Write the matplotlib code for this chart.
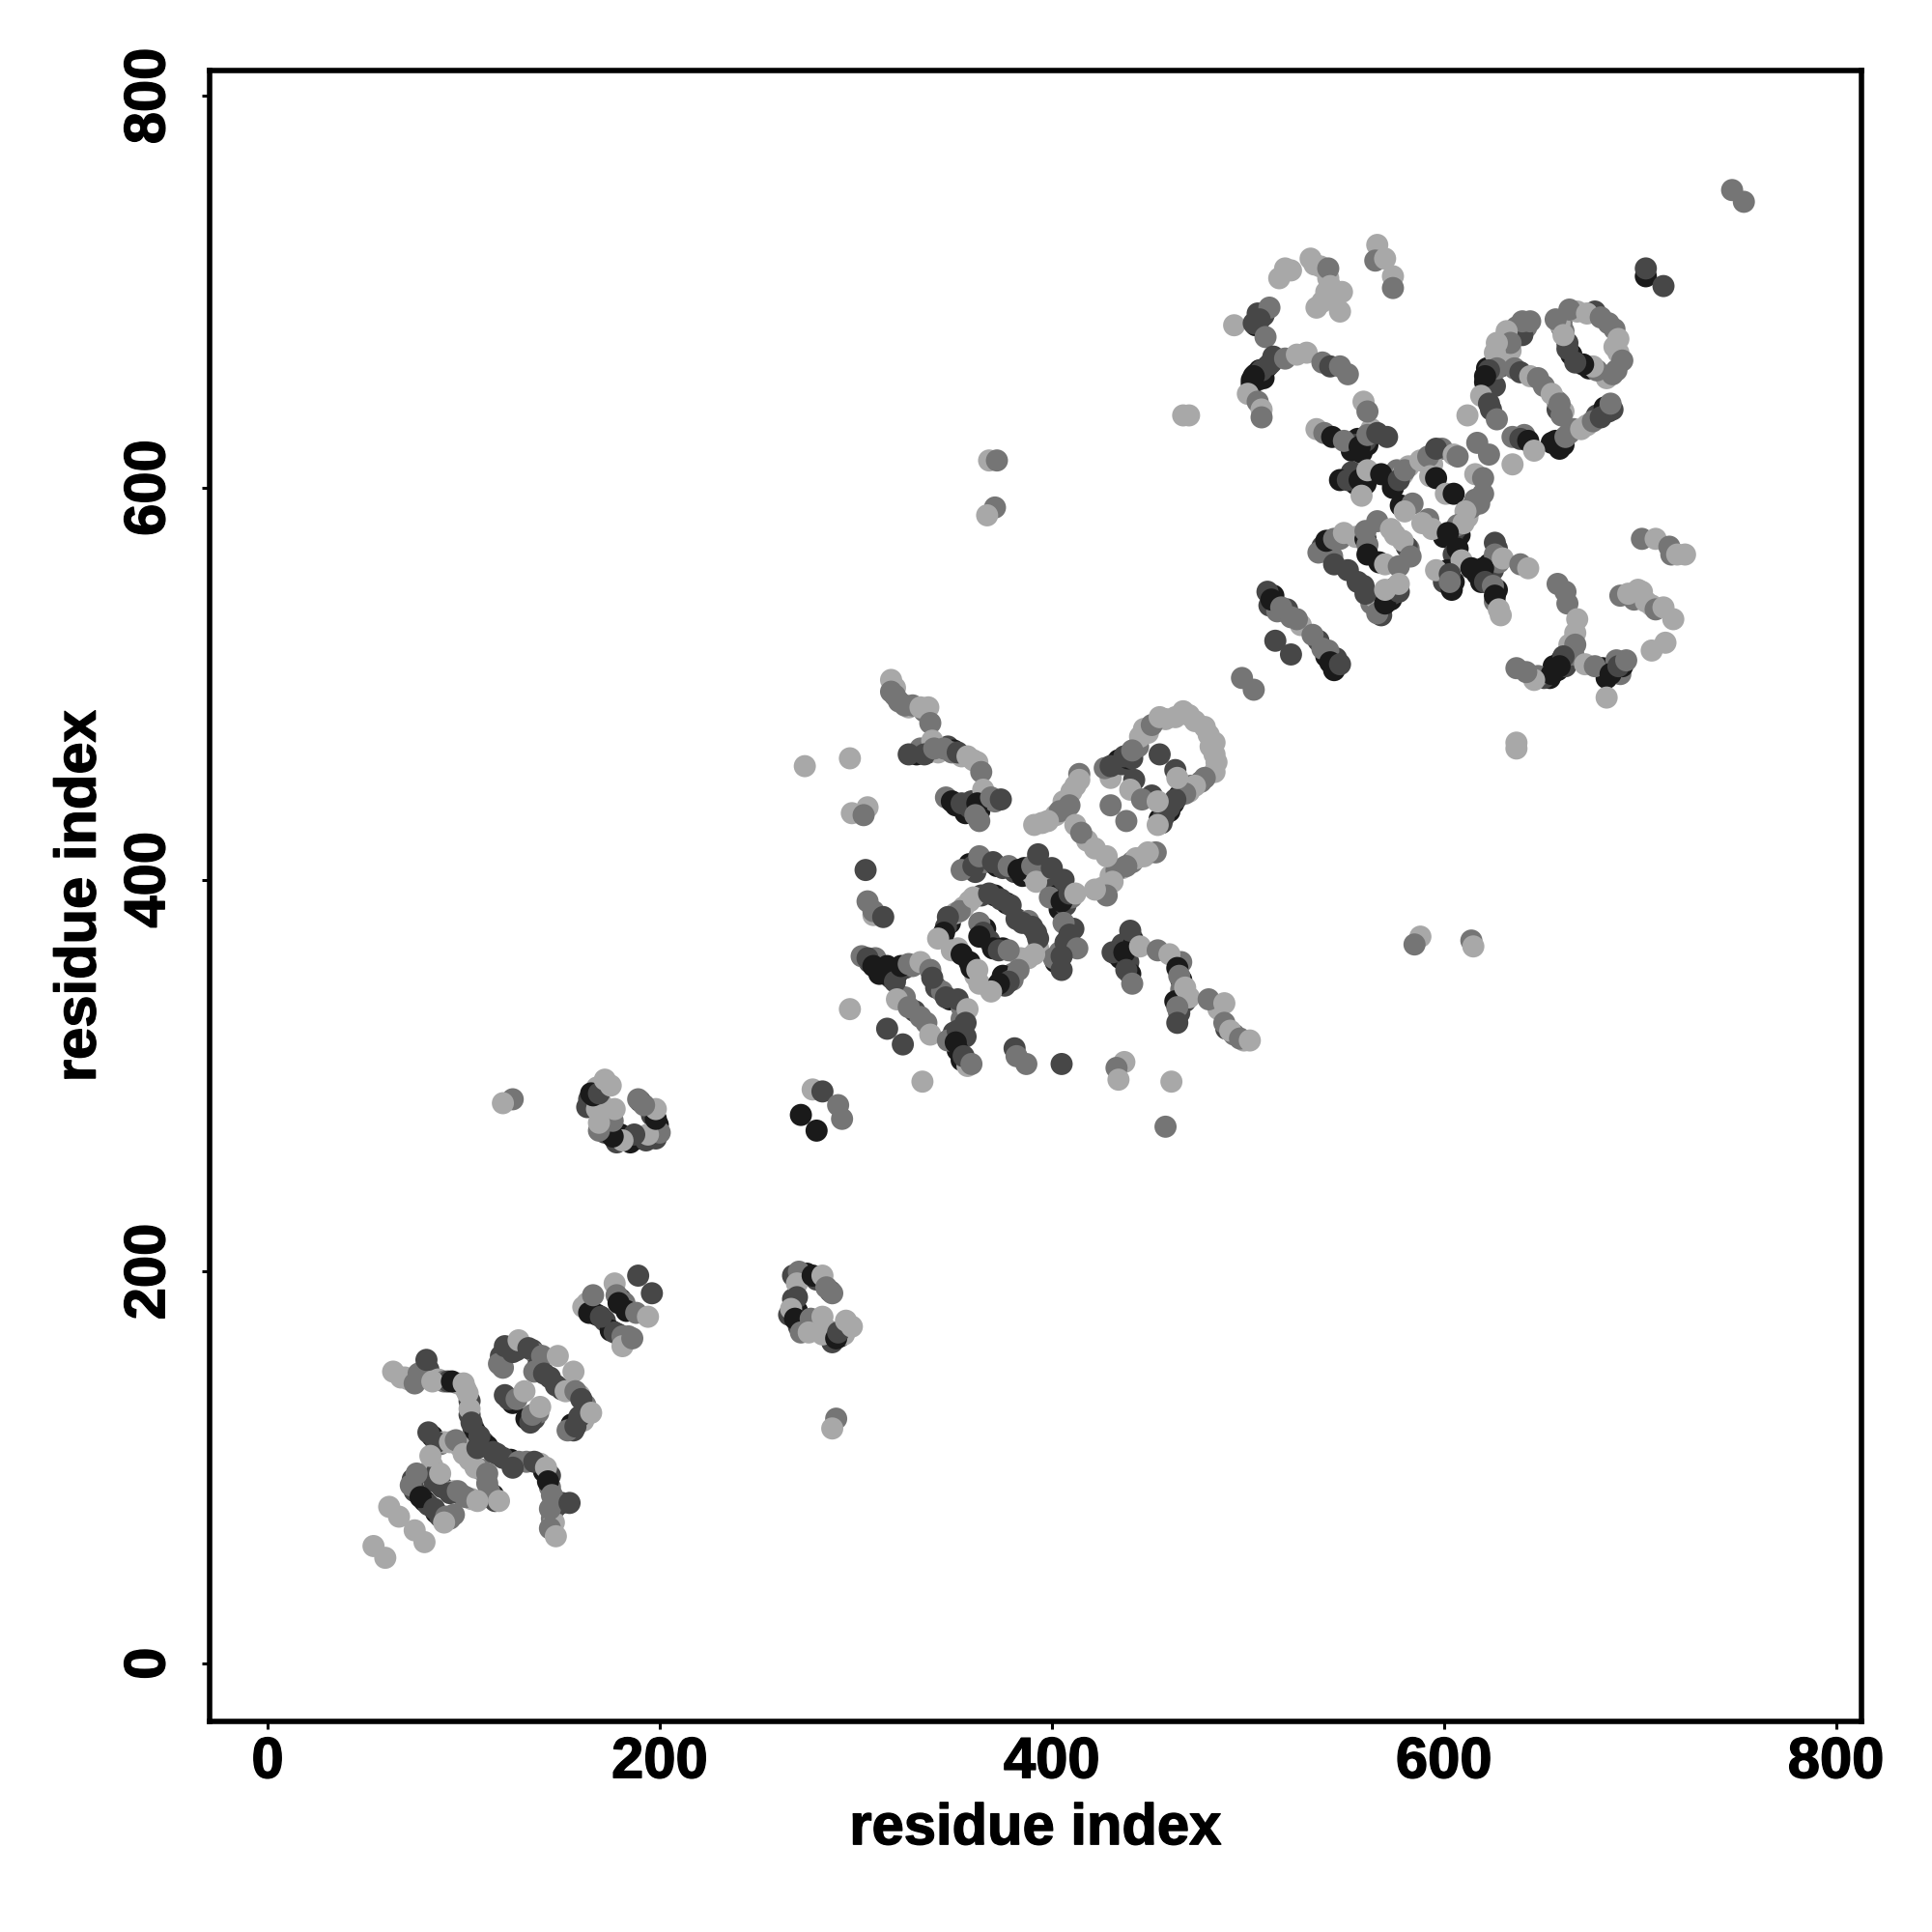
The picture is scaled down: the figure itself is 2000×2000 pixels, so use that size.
import matplotlib
matplotlib.use("Agg")
import matplotlib.pyplot as plt
import matplotlib.patheffects as pe

# contacts as (residue i, residue j, tone)
# tone: l = light, m = mid, d = dark, b = black

low_tail = [(54,60,"l"),(60,54,"l"),(62,80,"l"),(67,75,"l"),(75,68,"l"),(80,62,"l")]

domain_a = [
    (64,149,"l"),(68,146,"l"),(75,143,"m"),(77,148,"m"),(81,155,"d"),(84,144,"l"),(94,144,"b"),
    (100,143,"l"),(102,138,"l"),(103,130,"l"),(104,123,"d"),(108,116,"d"),(115,108,"d"),(120,105,"d"),
    (128,103,"m"),(136,103,"d"),(142,100,"l"),(143,93,"b"),(145,86,"m"),(144,79,"m"),(154,82,"d"),
    (144,69,"m"),(147,65,"l"),
    (82,118,"d"),(86,113,"d"),(93,113,"l"),(96,114,"m"),(100,107,"l"),(106,100,"l"),(112,97,"m"),
    (113,88,"m"),(118,83,"l"),
    (83,106,"l"),(85,93,"d"),(88,97,"l"),(93,87,"d"),(97,88,"m"),(101,85,"m"),(107,83,"l"),
    (76,97,"m"),(73,91,"m"),(78,85,"b"),(85,79,"d"),(91,75,"m"),(95,76,"m"),(90,72,"l"),
    (107,110,"d"),(125,100,"d"),
]

domain_a_dense = [
    (70,146,"l"),(72,145,"l"),(79,146,"m"),(80,150,"m"),(82,150,"d"),(87,145,"l"),(90,144,"m"),(92,144,"d"),
    (97,143,"l"),(101,140,"l"),(103,134,"d"),(103,127,"d"),(105,120,"d"),(106,118,"b"),(110,113,"d"),
    (112,111,"b"),(117,107,"d"),(124,104,"b"),(132,103,"m"),(139,102,"l"),(141,98,"b"),(144,96,"d"),
    (144,90,"m"),(146,83,"l"),(147,80,"d"),(145,74,"m"),(146,72,"l"),(150,82,"d"),
    (84,116,"b"),(88,112,"m"),(90,113,"l"),(98,111,"l"),(103,104,"l"),(109,99,"m"),(112,92,"m"),
    (115,86,"b"),(113,85,"d"),(116,83,"d"),(84,101,"l"),(86,97,"d"),(89,90,"d"),(95,88,"l"),(99,86,"m"),
    (104,84,"l"),(74,94,"d"),(75,88,"d"),(80,83,"b"),(82,81,"d"),(86,77,"b"),(88,75,"d"),(93,74,"m"),
]

domain_a_upper = [
    (118,153,"m"),(121,162,"d"),(125,159,"d"),(128,165,"l"),(133,161,"d"),(140,157,"m"),(148,157,"l"),
    (136,149,"m"),(141,148,"d"),(156,149,"l"),(147,142,"d"),(152,139,"l"),(157,139,"m"),(160,135,"d"),
    (153,119,"m"),(157,121,"d"),(159,126,"d"),(165,128,"l"),
    (123,135,"d"),(127,135,"m"),(131,139,"l"),(134,123,"d"),(135,127,"m"),(139,131,"l"),
]

domain_a_upper_dense = [
    (119,157,"d"),(120,151,"m"),(123,161,"b"),(127,160,"d"),(130,162,"m"),(135,160,"d"),(137,158,"m"),
    (138,152,"d"),(144,146,"d"),(150,140,"d"),(155,140,"m"),(159,137,"l"),(162,132,"m"),(162,129,"d"),
    (161,124,"l"),(155,122,"b"),(156,119,"d"),(125,133,"b"),(121,137,"d"),(132,125,"b"),(136,125,"d"),
    (138,128,"m"),
]

domain_c = [
    (161,182,"l"),(164,179,"b"),(166,188,"m"),(170,177,"d"),(177,169,"d"),(181,167,"m"),(181,162,"l"),
    (186,166,"m"),(177,194,"l"),(178,188,"m"),(179,184,"b"),(183,180,"b"),(189,198,"d"),(196,189,"d"),
    (188,179,"m"),(194,177,"l"),
]

domain_c_dense = [
    (163,184,"l"),(165,180,"d"),(168,178,"b"),(172,175,"d"),(175,170,"b"),(179,168,"d"),(183,165,"l"),
    (184,167,"m"),(180,186,"d"),(182,184,"m"),
]

domain_d = [
    (271,200,"m"),(270,194,"l"),(278,198,"b"),(283,198,"l"),(285,192,"m"),(288,189,"m"),(270,187,"d"),
    (267,181,"l"),(269,176,"b"),(272,169,"m"),(277,176,"m"),(283,177,"l"),(276,169,"l"),(283,168,"l"),
    (290,166,"b"),(291,169,"d"),(295,175,"l"),(298,172,"l"),(290,125,"m"),(288,120,"l"),
]

domain_d_dense = [
    (268,198,"d"),(272,197,"m"),(275,199,"b"),(280,196,"d"),(287,190,"d"),(268,186,"d"),(266,178,"d"),
    (270,180,"b"),(271,172,"d"),(274,172,"l"),(280,172,"m"),(286,170,"l"),(288,164,"d"),(292,167,"b"),
    (294,168,"l"),(296,173,"l"),
]

domain_d_mirror = [
    (200,271,"m"),(194,270,"l"),(198,278,"b"),(198,283,"l"),(192,285,"m"),(189,288,"m"),(187,270,"d"),
    (181,267,"l"),(176,269,"b"),(169,272,"m"),(176,277,"m"),(177,283,"l"),(169,276,"l"),(168,283,"l"),
    (166,290,"b"),(169,291,"d"),(175,295,"l"),(172,298,"l"),(125,288,"m"),(120,286,"l"),
]

domain_d_mirror_dense = [
    (198,268,"d"),(197,272,"m"),(199,275,"b"),(196,280,"d"),(190,287,"d"),(186,268,"d"),(178,266,"d"),
    (180,270,"b"),(172,271,"d"),(172,274,"l"),(172,280,"m"),(170,286,"l"),(164,288,"d"),(167,292,"b"),
    (168,294,"l"),(173,296,"l"),(185,266,"b"),(190,268,"b"),(193,267,"d"),(163,284,"d"),(165,291,"b"),
]

small_strand = [
    (272,280,"b"),(280,272,"b"),(278,293,"l"),(283,292,"d"),(291,285,"m"),(293,278,"m"),
    (274,458,"l"),(458,274,"m"),(371,590,"m"),(367,586,"l"),(368,614,"l"),(372,614,"m"),
    (588,371,"l"),(585,367,"m"),(614,369,"m"),(615,366,"l"),(470,637,"l"),(467,637,"l"),
    (637,470,"l"),(637,467,"l"),
]

domain_e_upper_left = [
    (318,502,"l"),(318,496,"m"),(322,491,"m"),(325,489,"m"),(333,488,"l"),(337,488,"l"),(338,480,"m"),
    (339,471,"l"),(327,464,"d"),(335,464,"d"),(340,467,"m"),(345,467,"m"),(349,465,"m"),(352,465,"d"),
    (357,463,"l"),(362,460,"l"),(364,455,"m"),(365,446,"l"),(346,442,"m"),(349,440,"b"),(354,439,"d"),
    (358,437,"d"),(362,439,"b"),(361,433,"m"),(363,430,"m"),(369,442,"m"),(374,441,"d"),
    (297,462,"l"),(298,434,"l"),(306,437,"l"),(304,433,"m"),(305,405,"d"),(306,389,"m"),(309,382,"l"),
    (309,384,"m"),(314,381,"d"),(497,503,"m"),(503,497,"m"),
]

domain_e_upper_left_dense = [
    (320,498,"l"),(320,494,"m"),(327,488,"l"),(329,489,"m"),(335,486,"m"),(331,464,"b"),(333,467,"m"),
    (337,465,"d"),(342,465,"l"),(347,468,"d"),(350,466,"b"),(354,463,"l"),(360,461,"l"),(360,440,"b"),
    (361,436,"b"),(362,437,"d"),(363,435,"b"),(366,442,"l"),(371,440,"m"),(359,440,"d"),(351,438,"b"),
    (356,434,"b"),
]

domain_e_loop = [
    (427,457,"m"),(430,458,"d"),(437,463,"d"),(441,466,"m"),(447,477,"l"),(451,479,"m"),(455,483,"l"),
    (463,483,"l"),(470,484,"l"),(473,481,"l"),(480,474,"l"),(483,470,"l"),(483,464,"l"),(483,455,"l"),
    (478,452,"m"),(473,448,"l"),(468,444,"m"),(463,441,"d"),(460,437,"d"),(457,432,"d"),(454,428,"l"),
    (455,464,"d"),(463,456,"d"),(464,452,"l"),(442,451,"d"),(440,446,"l"),(451,443,"d"),(446,441,"m"),
    (454,440,"l"),(430,438,"m"),(438,430,"m"),
    (414,454,"m"),(414,451,"l"),(410,445,"l"),(409,438,"m"),(404,435,"m"),(398,430,"l"),(391,428,"l"),
    (412,428,"l"),(415,424,"m"),
    (453,414,"m"),(449,414,"l"),(443,411,"l"),(438,407,"m"),(433,405,"m"),(428,412,"l"),(422,416,"l"),
    (431,399,"l"),(428,392,"m"),(422,395,"l"),
]

domain_e_loop_dense = [
    (430,452,"l"),(432,459,"m"),(434,461,"b"),(436,459,"d"),(439,462,"b"),(441,462,"d"),(444,468,"m"),
    (445,473,"l"),(449,475,"l"),(458,482,"l"),(467,486,"l"),(478,478,"l"),(481,468,"l"),(484,460,"l"),
    (476,450,"m"),(471,448,"m"),(466,444,"d"),(465,443,"b"),(462,439,"b"),(460,435,"b"),(458,435,"d"),
    (456,429,"d"),(455,431,"b"),(470,445,"l"),
    (412,448,"l"),(406,440,"l"),(402,433,"l"),(395,429,"l"),(447,412,"l"),(441,409,"m"),(436,406,"l"),
    (426,396,"l"),(430,402,"l"),(418,420,"l"),
]

domain_e_centre = [
    (354,405,"m"),(360,407,"d"),(363,412,"m"),(370,409,"d"),(378,407,"m"),(383,405,"b"),(390,407,"m"),
    (393,413,"d"),(392,399,"l"),(400,406,"d"),(406,400,"d"),(399,391,"m"),(405,389,"b"),(409,393,"d"),
    (412,393,"l"),(406,378,"m"),(409,372,"d"),(413,365,"m"),(401,360,"m"),(405,361,"d"),(405,354,"d"),
    (353,384,"m"),(347,381,"d"),(345,373,"b"),(342,370,"l"),(349,364,"l"),(354,362,"b"),(359,355,"b"),
    (362,354,"l"),(363,347,"l"),(360,391,"l"),(368,393,"d"),(374,390,"d"),(379,387,"d"),(385,378,"d"),
    (390,376,"d"),(393,370,"d"),(391,362,"l"),(384,360,"l"),(383,354,"m"),(378,348,"d"),(373,347,"b"),
    (369,343,"l"),(363,378,"m"),(365,373,"d"),(363,371,"b"),(370,365,"b"),(373,364,"d"),(378,364,"m"),
]

domain_e_centre_dense = [
    (358,408,"b"),(361,404,"d"),(366,409,"m"),(372,407,"b"),(375,406,"d"),(381,404,"d"),(385,402,"b"),
    (386,406,"b"),(390,403,"l"),(395,402,"l"),(400,395,"d"),(403,392,"b"),(404,385,"b"),(407,387,"d"),
    (410,391,"m"),(402,358,"b"),(404,363,"m"),(407,368,"d"),(411,375,"d"),(348,378,"b"),(346,376,"d"),
    (351,383,"l"),(355,386,"l"),(358,389,"l"),(364,392,"d"),(371,392,"b"),(377,388,"b"),(382,380,"d"),
    (388,379,"m"),(392,373,"d"),(393,365,"l"),(388,360,"l"),(380,352,"m"),(376,346,"d"),(375,351,"b"),
    (380,349,"m"),(358,358,"b"),(352,365,"l"),(361,351,"l"),(366,375,"b"),(368,369,"d"),(375,365,"b"),
]

domain_e_lower = [
    (303,361,"m"),(306,360,"d"),(309,356,"b"),(315,352,"b"),(320,348,"d"),(323,356,"b"),(327,357,"m"),
    (333,358,"l"),(338,354,"m"),(339,350,"d"),(346,340,"d"),(352,339,"d"),(357,334,"l"),(321,339,"l"),
    (327,335,"m"),(336,327,"m"),(338,321,"l"),(347,318,"m"),(356,327,"d"),(352,323,"d"),(351,317,"b"),
    (355,310,"d"),(359,306,"m"),(297,334,"l"),(316,324,"d"),(324,316,"d"),(334,297,"l"),
    (381,314,"d"),(382,310,"m"),(387,306,"m"),(405,306,"d"),(437,307,"l"),(433,304,"m"),(434,298,"l"),
    (461,297,"l"),
    (440,374,"d"),(431,363,"d"),(437,363,"b"),(438,354,"d"),(441,347,"m"),(445,366,"l"),(454,364,"m"),
    (460,362,"l"),(464,355,"b"),(465,351,"m"),(468,345,"l"),(470,340,"l"),(464,335,"m"),(464,327,"d"),
    (480,339,"m"),(488,337,"l"),(488,327,"m"),(491,323,"l"),(496,319,"m"),(501,318,"l"),
]

domain_e_lower_dense = [
    (307,358,"d"),(310,360,"m"),(312,352,"b"),(316,356,"b"),(318,350,"d"),(321,352,"b"),(325,355,"d"),
    (329,356,"m"),(341,345,"d"),(344,343,"m"),(348,339,"b"),(354,335,"m"),(325,340,"m"),(330,333,"d"),
    (333,330,"m"),(350,320,"d"),(354,325,"b"),(356,320,"d"),(352,313,"b"),(354,308,"b"),(357,305,"l"),
    (350,322,"d"),(354,329,"m"),(433,362,"b"),(435,360,"b"),(436,367,"d"),(439,358,"d"),(440,352,"b"),
    (441,370,"d"),(442,368,"b"),(466,349,"b"),(466,344,"m"),(468,338,"d"),(465,332,"d"),(467,341,"m"),
    (463,338,"b"),(466,358,"m"),(493,321,"m"),(498,318,"l"),(485,334,"l"),(489,324,"d"),
]

domain_f_upper_left = [
    (519,712,"l"),(516,707,"l"),(532,717,"l"),(537,713,"l"),(541,712,"m"),(542,703,"l"),(548,700,"l"),
    (538,695,"l"),(547,690,"l"),(566,724,"l"),(565,716,"m"),(570,717,"l"),(574,708,"l"),(574,702,"m"),
    (493,683,"l"),(511,692,"m"),(506,686,"d"),(503,684,"d"),(509,677,"m"),(513,667,"d"),(511,663,"d"),
    (507,660,"d"),(503,657,"b"),(519,666,"m"),(525,668,"l"),(530,669,"l"),(538,664,"m"),(542,662,"d"),
    (547,662,"m"),(551,658,"m"),(500,648,"l"),(505,644,"m"),(507,640,"l"),(507,636,"m"),
]

domain_f_upper_left_dense = [
    (504,683,"b"),(505,689,"d"),(508,688,"d"),(502,655,"b"),(504,658,"b"),(506,660,"b"),(508,659,"d"),
    (510,662,"b"),(512,664,"d"),(505,655,"d"),(502,653,"b"),(508,656,"b"),(534,714,"l"),(541,707,"l"),
    (540,700,"l"),(544,697,"l"),(522,711,"l"),(535,692,"l"),
]

domain_f_centre = [
    (559,644,"l"),(561,639,"m"),(535,630,"l"),(539,628,"m"),(543,626,"b"),(549,624,"m"),(557,621,"b"),
    (561,627,"m"),(566,628,"d"),(571,626,"d"),(547,604,"b"),(551,604,"d"),(557,604,"b"),(561,609,"l"),
    (568,607,"b"),(577,604,"d"),(580,609,"m"),(558,596,"l"),(578,591,"b"),(584,592,"m"),(580,588,"l"),
    (588,614,"l"),(592,616,"m"),(596,620,"d"),(605,617,"l"),(607,616,"m"),(593,606,"l"),(596,605,"b"),
    (601,597,"l"),(605,597,"b"),(617,623,"m"),(623,617,"m"),(616,607,"l"),(620,605,"m"),(620,597,"m"),
    (616,594,"m"),(611,588,"l"),(607,581,"m"),(610,582,"l"),(592,584,"m"),(589,582,"l"),(594,579,"l"),
    (602,577,"b"),(607,569,"b"),(609,563,"l"),(596,558,"l"),(603,556,"d"),(604,548,"b"),(603,552,"m"),
]

domain_f_centre_dense = [
    (561,622,"b"),(556,625,"b"),(558,618,"b"),(560,624,"d"),(555,622,"d"),(553,619,"b"),(563,630,"l"),
    (552,604,"b"),(553,608,"d"),(555,602,"b"),(558,606,"d"),(560,602,"b"),(572,606,"b"),(574,602,"d"),
    (576,609,"m"),(579,607,"l"),(582,611,"l"),(574,600,"b"),(599,620,"m"),(594,612,"l"),(608,576,"b"),
    (604,574,"d"),(606,579,"d"),(612,585,"l"),(614,590,"m"),(618,592,"m"),(600,575,"b"),(605,566,"d"),
    (602,558,"b"),(605,552,"b"),(600,552,"d"),
]

domain_f_left_loop = [
    (536,567,"m"),(540,573,"b"),(544,574,"m"),(549,577,"l"),(560,578,"m"),(561,571,"m"),(561,566,"b"),
    (566,583,"m"),(573,579,"l"),(579,573,"l"),(583,565,"m"),(567,562,"b"),(570,561,"l"),(577,560,"m"),
    (544,561,"d"),(551,558,"d"),(559,550,"d"),(560,546,"d"),(566,536,"m"),(570,541,"b"),(577,547,"d"),
    (577,551,"l"),(570,548,"l"),
    (626,572,"d"),(626,566,"m"),(614,559,"b"),(620,559,"b"),(630,564,"l"),(639,561,"m"),(643,559,"l"),
    (621,552,"d"),(625,550,"m"),(626,545,"b"),(628,538,"l"),
]

domain_f_left_loop_dense = [
    (538,570,"d"),(542,570,"b"),(547,574,"m"),(555,575,"l"),(543,565,"m"),(560,574,"b"),(575,576,"l"),
    (582,569,"m"),(581,570,"d"),(556,552,"d"),(563,541,"m"),(565,544,"l"),(571,545,"d"),(575,549,"m"),
    (568,535,"d"),(573,543,"b"),(574,546,"d"),(617,556,"b"),(619,552,"b"),(621,556,"b"),(623,561,"b"),
    (623,554,"d"),(625,558,"d"),(627,569,"d"),(628,562,"m"),(627,548,"b"),(626,542,"m"),(629,535,"l"),
]

domain_f_upper_right = [
    (644,685,"m"),(640,685,"m"),(632,680,"l"),(634,674,"m"),(627,674,"l"),(626,669,"l"),(627,661,"m"),
    (623,660,"d"),(621,657,"b"),(619,647,"l"),(612,637,"l"),(623,643,"d"),(624,640,"d"),(627,635,"m"),
    (636,661,"m"),(639,659,"d"),(644,657,"l"),(648,656,"m"),(655,648,"l"),(659,643,"m"),(660,637,"m"),
    (635,626,"m"),(639,625,"d"),(643,624,"b"),(646,619,"l"),(635,612,"l"),(658,622,"b"),(662,626,"m"),
    (670,630,"l"),(676,634,"m"),(680,636,"d"),(684,639,"d"),(685,643,"m"),
    (657,686,"m"),(664,691,"m"),(673,689,"l"),(680,687,"m"),(687,681,"m"),(689,676,"l"),(691,665,"m"),
    (686,658,"m"),(678,660,"m"),(676,662,"l"),(671,663,"b"),(667,664,"d"),(663,671,"d"),(661,678,"l"),
    (703,708,"b"),(703,712,"d"),(712,703,"d"),(747,752,"m"),(753,746,"m"),
]

domain_f_upper_right_dense = [
    (625,663,"m"),(622,661,"b"),(624,655,"b"),(621,654,"b"),(624,658,"b"),(626,652,"d"),(629,662,"d"),
    (631,676,"l"),(637,682,"m"),(642,682,"m"),(630,664,"l"),(634,670,"l"),(640,678,"d"),(657,624,"b"),
    (659,620,"b"),(655,623,"b"),(661,622,"b"),(664,628,"m"),(666,630,"m"),(673,632,"l"),(678,637,"d"),
    (682,641,"b"),(686,640,"d"),(641,627,"m"),(651,652,"m"),(658,640,"d"),(661,639,"l"),(658,644,"m"),
    (660,685,"m"),(660,682,"m"),(668,690,"l"),(677,690,"d"),(684,684,"m"),(687,672,"l"),(689,669,"l"),
    (688,660,"m"),(683,656,"l"),(674,661,"b"),(665,668,"b"),(663,674,"d"),(661,680,"m"),(659,684,"l"),
]

domain_f_lower_right = [
    (701,574,"m"),(708,574,"l"),(715,570,"m"),(716,566,"m"),(719,566,"l"),(723,566,"l"),
    (658,551,"m"),(662,547,"m"),(663,541,"m"),(668,533,"l"),(667,526,"l"),(667,520,"m"),(661,514,"d"),
    (659,509,"b"),(655,505,"b"),(646,502,"l"),(642,506,"m"),(637,508,"m"),(672,510,"l"),(677,509,"m"),
    (685,505,"b"),(689,509,"d"),(693,512,"m"),(683,493,"l"),
    (690,545,"m"),(694,546,"l"),(699,548,"l"),(703,542,"l"),(708,538,"m"),(712,539,"l"),(717,533,"l"),
    (706,517,"l"),(713,521,"l"),
    (510,547,"d"),(512,543,"b"),(517,539,"m"),(525,533,"m"),(514,522,"d"),(522,515,"d"),(533,525,"m"),
    (538,518,"m"),(542,511,"b"),(547,510,"d"),
]

domain_f_lower_right_dense = [
    (660,512,"b"),(658,507,"b"),(654,503,"b"),(662,509,"d"),(656,509,"b"),(651,503,"d"),(648,504,"m"),
    (666,515,"m"),(664,520,"l"),(681,508,"b"),(683,503,"b"),(687,507,"b"),(690,505,"m"),(691,509,"b"),
    (688,512,"m"),(697,543,"m"),(701,547,"l"),(706,540,"l"),(511,540,"d"),(513,545,"b"),(515,537,"m"),
    (520,538,"d"),(522,534,"m"),(527,530,"l"),(536,522,"d"),(540,514,"b"),(544,507,"b"),(545,513,"d"),
    (541,517,"m"),
]

x_ticks = [0, 200, 400, 600, 800]
y_ticks = [0, 200, 400, 600, 800]

tone_gray = {"l": "#a8a8a8", "m": "#757575", "d": "#474747", "b": "#1a1a1a"}

# dense points go first so the ones read on top stay on top
all_contacts = (low_tail + domain_a_dense + domain_a + domain_a_upper_dense + domain_a_upper
                + domain_c_dense + domain_c + domain_d_dense + domain_d
                + domain_d_mirror_dense + domain_d_mirror + small_strand
                + domain_e_upper_left_dense + domain_e_upper_left
                + domain_e_loop_dense + domain_e_loop
                + domain_e_centre_dense + domain_e_centre
                + domain_e_lower_dense + domain_e_lower
                + domain_f_upper_left_dense + domain_f_upper_left
                + domain_f_centre_dense + domain_f_centre
                + domain_f_left_loop_dense + domain_f_left_loop
                + domain_f_upper_right_dense + domain_f_upper_right
                + domain_f_lower_right_dense + domain_f_lower_right)

xs = [c[0] for c in all_contacts]
ys = [c[1] for c in all_contacts]
colors = [tone_gray[c[2]] for c in all_contacts]

plt.rcParams["font.family"] = ["Liberation Sans", "DejaVu Sans"]
plt.rcParams["font.weight"] = "bold"

fig = plt.figure(figsize=(10, 10), dpi=200)
ax = fig.add_axes([0.1085, 0.109, 0.855, 0.8545])

ax.scatter(xs, ys, s=68, c=colors, linewidths=0, zorder=2)

ax.set_xlim(-29.6, 813)
ax.set_ylim(-29.5, 813)
ax.set_xticks(x_ticks)
ax.set_yticks(y_ticks)
ax.tick_params(axis="x", length=3, width=1.1, labelsize=21.5, pad=2.5)
ax.tick_params(axis="y", length=3, width=1.1, labelsize=21.5, pad=9.5)
for label in ax.get_yticklabels():
    label.set_rotation(90)
    label.set_va("center")

for spine in ax.spines.values():
    spine.set_linewidth(2.0)

ax.set_xlabel("residue index", fontsize=21.5, fontweight="bold", labelpad=5)
ax.set_ylabel("residue index", fontsize=21.5, fontweight="bold", labelpad=6)

# the original face is a bit heavier than Liberation bold
heavier = [pe.withStroke(linewidth=0.5, foreground="black")]
for label in ax.get_xticklabels() + ax.get_yticklabels() + [ax.xaxis.label, ax.yaxis.label]:
    label.set_path_effects(heavier)

fig.savefig("out.png", dpi=200)
